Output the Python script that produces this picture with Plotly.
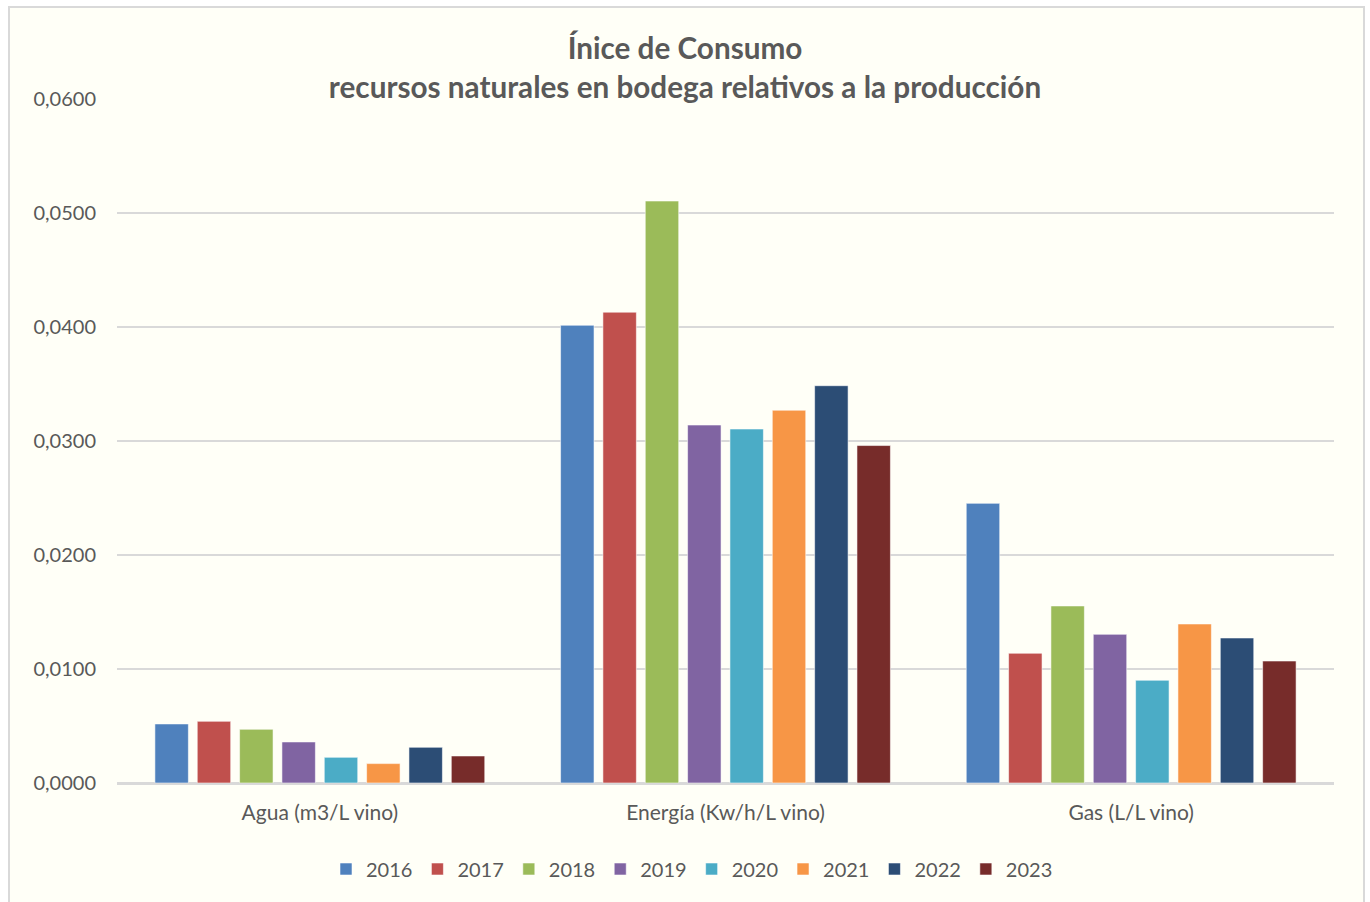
import plotly.graph_objects as go

# Consumption index per unit of wine produced
categories = ["Agua (m3/L vino)", "Energía (Kw/h/L vino)", "Gas (L/L vino)"]
years = ["2016", "2017", "2018", "2019", "2020", "2021", "2022", "2023"]

v2016 = [0.00518, 0.04015, 0.02453]
v2017 = [0.00541, 0.04130, 0.01138]
v2018 = [0.00471, 0.05105, 0.01553]
v2019 = [0.00360, 0.03140, 0.01304]
v2020 = [0.00225, 0.03105, 0.00901]
v2021 = [0.00170, 0.03270, 0.01395]
v2022 = [0.00313, 0.03485, 0.01272]
v2023 = [0.00237, 0.02960, 0.01070]

series = [v2016, v2017, v2018, v2019, v2020, v2021, v2022, v2023]
colors = ["#4F81BD", "#C0504D", "#9BBB59", "#8064A2",
          "#4BACC6", "#F79646", "#2C4D75", "#772C2A"]

TEXT = "#595959"
FONT = "Lato, 'Open Sans', sans-serif"

fig = go.Figure()
for name, vals, col in zip(years, series, colors):
    fig.add_trace(go.Bar(
        name=name, x=categories, y=vals,
        marker=dict(color=col, line=dict(color="rgba(255,255,255,0.55)", width=1)),
    ))

W, H = 1370, 902
ml, mr, mt, mb = 117, 36, 99, 119
pw, ph = W - ml - mr, H - mt - mb

def px_x(p):
    return (p - ml) / pw

def px_y(p):
    return (H - mb - p) / ph

fig.update_layout(
    width=W, height=H,
    margin=dict(l=ml, r=mr, t=mt, b=mb, autoexpand=False),
    paper_bgcolor="white",
    plot_bgcolor="rgba(0,0,0,0)",
    separators=",.",
    barmode="group",
    bargap=0.165,
    bargroupgap=0.21,
    font=dict(family=FONT, color=TEXT, size=19),
    title=dict(
        text="<b>Ínice de Consumo<br>recursos naturales en bodega relativos a la producción</b>",
        x=0.5, xanchor="center", xref="container",
        y=1 - 59 / H, yanchor="middle", yref="container",
        font=dict(family=FONT, size=29.7, color=TEXT),
    ),
    xaxis=dict(
        showgrid=False, showline=True, linecolor="#D9D9D9", linewidth=2,
        ticks="", ticklabelstandoff=10, tickangle=0, automargin=False,
        tickfont=dict(size=21, color=TEXT),
    ),
    yaxis=dict(
        range=[0, 0.06], dtick=0.01, tickformat=".4f",
        showgrid=True, gridcolor="#D9D9D9", gridwidth=2,
        zeroline=True, zerolinecolor="#D9D9D9", zerolinewidth=2,
        showline=False, ticks="", ticklen=0, ticklabelstandoff=20,
        automargin=False,
        tickfont=dict(size=20, color=TEXT),
    ),
    legend=dict(
        orientation="h", x=px_x(692), xanchor="center",
        y=px_y(869), yanchor="middle",
        font=dict(size=20, color=TEXT),
        itemwidth=30, traceorder="normal",
        bgcolor="rgba(0,0,0,0)",
    ),
    shapes=[dict(
        type="rect", xref="paper", yref="paper", layer="below",
        x0=px_x(9), x1=px_x(1364), y0=px_y(7), y1=px_y(910),
        fillcolor="#FFFFF7", line=dict(color="#D9D9D9", width=2),
    )],
)

fig.write_html("out.html")
